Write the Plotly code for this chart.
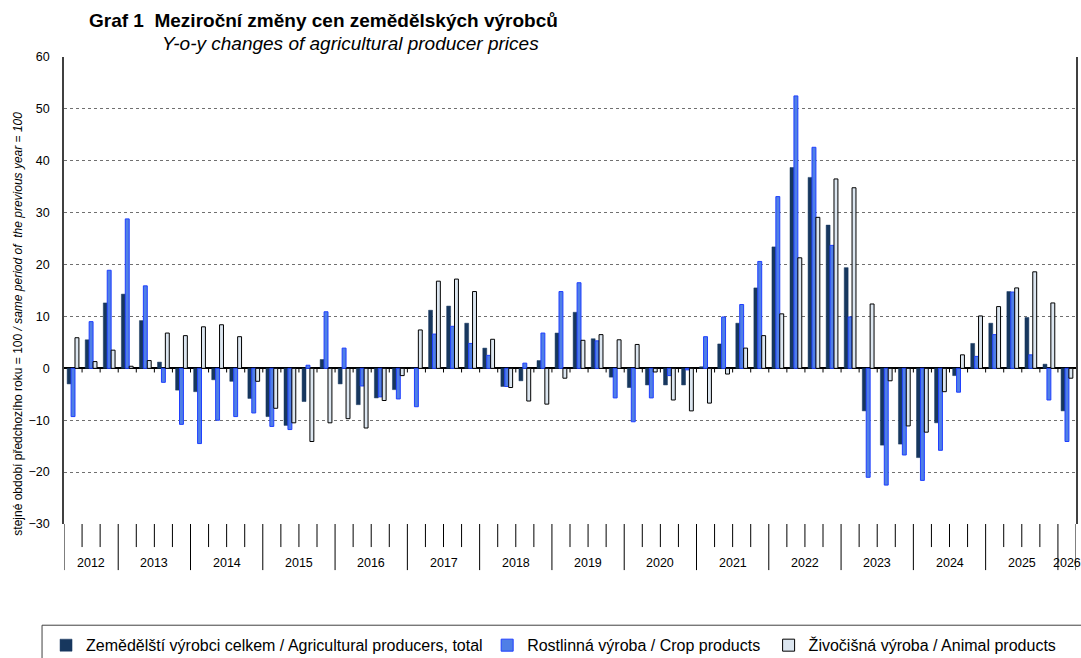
import plotly.graph_objects as go

# ---- data ----
years = ["2012", "2013", "2014", "2015", "2016", "2017", "2018", "2019",
         "2020", "2021", "2022", "2023", "2024", "2025", "2026"]
quarters_per_year = [3, 4, 4, 4, 4, 4, 4, 4, 4, 4, 4, 4, 4, 4, 1]
first_quarter = {"2012": 2}

total = [-3.0, 5.5, 12.6, 14.3, 9.2, 1.2, -4.2, -4.5, -2.2, -2.5, -5.8, -9.3, -11.0, -6.4,
         1.7, -3.0, -7.0, -5.7, -4.1, 0.0, 11.2, 12.0, 8.7, 3.9, -3.5, -2.4, 1.5, 6.8,
         10.8, 5.7, -1.7, -3.7, -3.2, -3.2, -3.2, 0.3, 4.7, 8.7, 15.5, 23.4, 38.7, 36.8,
         27.6, 19.4, -8.2, -14.8, -14.6, -17.2, -10.5, -1.4, 4.8, 8.7, 14.8, 9.8, 0.8, -8.2]
crop = [-9.3, 9.0, 18.9, 28.8, 15.9, -2.7, -10.8, -14.5, -10.0, -9.3, -8.6, -11.2, -11.8, 0.6,
        10.9, 3.9, -3.4, -5.5, -5.9, -7.4, 6.6, 8.1, 4.8, 2.5, -3.5, 1.0, 6.8, 14.8,
        16.5, 5.3, -5.7, -10.3, -5.7, -1.4, -0.3, 6.1, 9.9, 12.3, 20.6, 33.1, 52.5, 42.6,
        23.7, 9.9, -21.0, -22.5, -16.7, -21.6, -15.8, -4.6, 2.3, 6.5, 14.7, 2.6, -6.1, -14.1]
animal = [5.9, 1.3, 3.5, 0.4, 1.5, 6.8, 6.3, 8.0, 8.4, 6.1, -2.5, -7.7, -10.5, -14.1,
          -10.5, -9.7, -11.5, -6.2, -1.4, 7.4, 16.8, 17.2, 14.8, 5.6, -3.7, -6.3, -6.9, -1.9,
          5.4, 6.5, 5.5, 4.6, -0.7, -6.1, -8.2, -6.7, -1.1, 3.9, 6.3, 10.5, 21.3, 29.1,
          36.5, 34.8, 12.4, -2.4, -11.1, -12.3, -4.5, 2.6, 10.1, 11.9, 15.5, 18.6, 12.6, -1.9]

names = ["Zemědělští výrobci celkem / Agricultural producers, total",
         "Rostlinná výroba / Crop products",
         "Živočišná výroba / Animal products"]

# categories derived from years
periods = []
for y, n in zip(years, quarters_per_year):
    q0 = first_quarter.get(y, 1)
    for q in range(q0, q0 + n):
        periods.append(f"{y}Q{q}")
xpos = list(range(len(periods)))

FONT = "Liberation Sans, Arial, sans-serif"

# target layout in screenshot pixels (1081 x 658)
P_LEFT, P_RIGHT, P_TOP, P_BOTTOM = 64, 1078, 56, 522
KY = 665 / 658  # vertical compensation for the capture
W, H = 1081, 665
ML, MR = P_LEFT, W - P_RIGHT
MT = round(P_TOP * KY)
MB = H - round(P_BOTTOM * KY)
PW, PH = P_RIGHT - P_LEFT, P_BOTTOM - P_TOP


def px_x(p):
    return (p - P_LEFT) / PW


def px_y(p):
    return (P_BOTTOM - p) / PH


fig = go.Figure()
fig.add_trace(go.Bar(x=xpos, y=total, name=names[0], legend="legend",
                     marker=dict(color="#17375E", line=dict(color="#17375E", width=0.5)),
                     customdata=periods))
fig.add_trace(go.Bar(x=xpos, y=crop, name=names[1], legend="legend2",
                     marker=dict(color="#4F7FE6", line=dict(color="#1F3FFF", width=1)),
                     customdata=periods))
fig.add_trace(go.Bar(x=xpos, y=animal, name=names[2], legend="legend3",
                     marker=dict(color="#DCE6F0", line=dict(color="#000000", width=1)),
                     customdata=periods))

shapes = []
year_starts = set()
k = 0
for y, n in zip(years, quarters_per_year):
    year_starts.add(k)
    k += n
year_starts.add(k)
for b in range(len(periods) + 1):
    xb = b - 0.5
    is_year = b in year_starts
    shapes.append(dict(type="line", xref="x", yref="paper", x0=xb, x1=xb,
                       y0=0, y1=px_y(568) if is_year else px_y(545),
                       line=dict(color="#000000", width=1)))
    if 0 < b < len(periods):
        shapes.append(dict(type="line", xref="x", yref="y", x0=xb, x1=xb,
                           y0=0, y1=-0.8, line=dict(color="#000000", width=1)))

# legend frame (extends past the right and bottom edges as in the reference)
shapes.append(dict(type="rect", xref="paper", yref="paper",
                   x0=px_x(42), x1=px_x(1110), y0=px_y(623), y1=px_y(700),
                   line=dict(color="#404040", width=1), fillcolor="rgba(0,0,0,0)",
                   layer="above"))

annotations = []
k = 0
for y, n in zip(years, quarters_per_year):
    center = k + (n - 1) / 2
    annotations.append(dict(x=center, y=px_y(561), xref="x", yref="paper",
                            text=y, showarrow=False, xanchor="center", yanchor="middle",
                            font=dict(family=FONT, size=12.5, color="#000000")))
    k += n

annotations.append(dict(x=px_x(87), y=px_y(20), xref="paper", yref="paper",
                        text="<b>Graf 1  Meziroční změny cen zemědělských výrobců</b>",
                        showarrow=False, xanchor="left", yanchor="middle",
                        font=dict(family=FONT, size=19, color="#000000")))
annotations.append(dict(x=px_x(160), y=px_y(43), xref="paper", yref="paper",
                        text="<i>Y-o-y changes of agricultural producer prices</i>",
                        showarrow=False, xanchor="left", yanchor="middle",
                        font=dict(family=FONT, size=19, color="#000000")))
annotations.append(dict(x=px_x(17), y=px_y(322), xref="paper", yref="paper",
                        text="stejné období předchozího roku = 100 <i>/ same period of  the previous year = 100</i>",
                        showarrow=False, xanchor="center", yanchor="middle", textangle=-90,
                        font=dict(family=FONT, size=12, color="#000000")))

leg_common = dict(orientation="h", yanchor="middle", xanchor="left",
                  bgcolor="rgba(0,0,0,0)", borderwidth=0,
                  font=dict(family=FONT, size=16, color="#000000"), itemwidth=30)
legend_text_x = [87, 529, 811]

fig.update_layout(
    width=W, height=H,
    margin=dict(l=ML, r=MR, t=MT, b=MB),
    paper_bgcolor="white", plot_bgcolor="white",
    barmode="group", bargap=0.35, bargroupgap=0.0,
    font=dict(family=FONT, size=12, color="#000000"),
    shapes=shapes, annotations=annotations,
    legend=dict(x=px_x(legend_text_x[0] - 41), y=px_y(643), **leg_common),
    legend2=dict(x=px_x(legend_text_x[1] - 41), y=px_y(643), **leg_common),
    legend3=dict(x=px_x(legend_text_x[2] - 41), y=px_y(643), **leg_common),
    showlegend=True,
)
fig.update_xaxes(range=[-0.5, len(periods) - 0.5], showticklabels=False, showgrid=False,
                 zeroline=False, showline=False, ticks="")
fig.update_yaxes(range=[-30, 60], dtick=10, tick0=0, showgrid=True, gridcolor="#707070",
                 griddash="dot", gridwidth=1, zeroline=True, zerolinecolor="#000000",
                 zerolinewidth=1.5, showline=True, linecolor="#404040", linewidth=1.5,
                 mirror=True, ticks="", ticklabelstandoff=10,
                 tickfont=dict(family=FONT, size=12.5, color="#000000"))

fig.write_html("out.html", config={"displayModeBar": False},
               post_script="document.body.style.margin='0';document.body.style.overflow='hidden';")
